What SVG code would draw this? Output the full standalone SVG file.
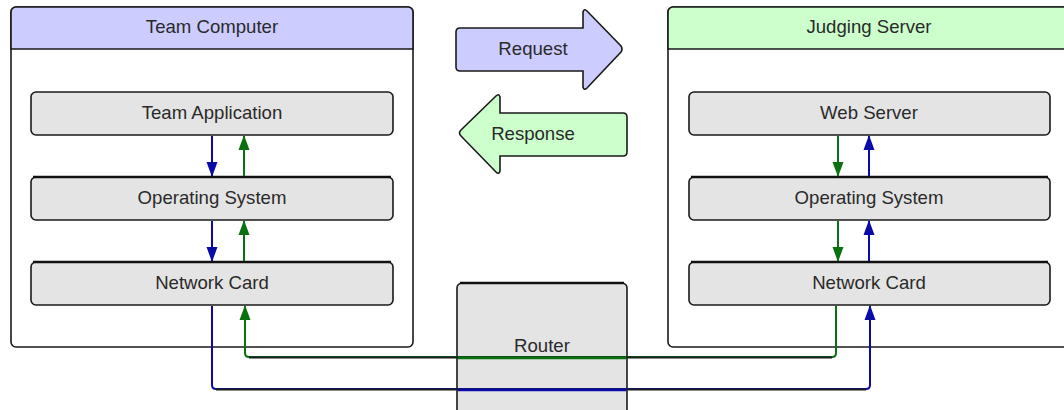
<svg xmlns="http://www.w3.org/2000/svg" width="1064" height="410" viewBox="0 0 1064 410">
<style>
text{font-family:"Liberation Sans",Arial,sans-serif;font-size:18.6px;fill:#2a2a2a;text-anchor:middle;dominant-baseline:central}
.outer{fill:#fff;stroke:#1a1a1a;stroke-width:1.6}
.layer{fill:#e4e4e4;stroke:#1a1a1a;stroke-width:1.6}
.topedge{fill:none;stroke:#111;stroke-width:2.4}
.blue{fill:none;stroke:#0a0aa8;stroke-width:2}
.green{fill:none;stroke:#0a7010;stroke-width:2}
.shadow{fill:none;stroke:#1c1c1c;stroke-width:1.8}
</style>
<defs>
<marker id="ab" markerWidth="15" markerHeight="12" refX="14" refY="6" orient="auto" markerUnits="userSpaceOnUse" viewBox="0 0 15 12"><path d="M0,0.5 L15,6 L0,11.5 z" fill="#0a0aa8"/></marker>
<marker id="ag" markerWidth="15" markerHeight="12" refX="14" refY="6" orient="auto" markerUnits="userSpaceOnUse" viewBox="0 0 15 12"><path d="M0,0.5 L15,6 L0,11.5 z" fill="#0a7010"/></marker>
</defs>
<g id="team-computer">
<rect class="outer" x="11" y="7" width="402" height="340" rx="5"/>
<path d="M11,49 V12 a5,5 0 0 1 5,-5 H408 a5,5 0 0 1 5,5 V49 z" fill="#ccccff" stroke="#1a1a1a" stroke-width="1.6"/>
<text x="212" y="26">Team Computer</text>
</g>
<g id="team-application"><rect class="layer" x="31" y="92" width="362" height="43" rx="5"/><text x="212" y="112">Team Application</text></g>
<g id="tc-os"><rect class="layer" x="31" y="177" width="362" height="43" rx="5"/><path class="topedge" d="M33,177 H391"/><text x="212" y="197">Operating System</text></g>
<g id="tc-nic"><rect class="layer" x="31" y="262" width="362" height="43" rx="5"/><path class="topedge" d="M33,262 H391"/><text x="212" y="282">Network Card</text></g>
<g id="judging-server">
<rect class="outer" x="668" y="7" width="420" height="340" rx="5"/>
<path d="M668,49 V12 a5,5 0 0 1 5,-5 H1088 V49 z" fill="#ccffcc" stroke="#1a1a1a" stroke-width="1.6"/>
<text x="869" y="26">Judging Server</text>
</g>
<g id="web-server"><rect class="layer" x="689" y="92" width="361" height="43" rx="5"/><text x="869" y="112">Web Server</text></g>
<g id="js-os"><rect class="layer" x="689" y="177" width="361" height="43" rx="5"/><path class="topedge" d="M691,177 H1048"/><text x="869" y="197">Operating System</text></g>
<g id="js-nic"><rect class="layer" x="689" y="262" width="361" height="43" rx="5"/><path class="topedge" d="M691,262 H1048"/><text x="869" y="282">Network Card</text></g>
<g id="request">
<path d="M460,28 H583 V12 Q584,8 587,11 L621,46 Q623,49 621,52 L587,88 Q584,91 583,87 V71 H460 Q456,71 456,67 V32 Q456,28 460,28 z" fill="#ccccff" stroke="#1a1a1a" stroke-width="1.6"/>
<text x="533" y="48">Request</text>
</g>
<g id="response">
<path d="M623,113 H500 V97 Q499,93 496,96 L461,130 Q458,133 461,136 L496,172 Q499,175 500,171 V156 H623 Q627,156 627,152 V117 Q627,113 623,113 z" fill="#ccffcc" stroke="#1a1a1a" stroke-width="1.6"/>
<text x="533" y="133">Response</text>
</g>
<g id="router">
<path d="M457,420 V288 a5,5 0 0 1 5,-5 H622 a5,5 0 0 1 5,5 V420" fill="#e4e4e4" stroke="#1a1a1a" stroke-width="1.6"/>
<path class="topedge" d="M460,283 H624"/>
<text x="542" y="345">Router</text>
</g>
<g id="connectors">
<path class="blue" d="M212,136 V176" marker-end="url(#ab)"/>
<path class="green" d="M244,176 V136" marker-end="url(#ag)"/>
<path class="blue" d="M212,221 V261" marker-end="url(#ab)"/>
<path class="green" d="M244,261 V221" marker-end="url(#ag)"/>
<path class="green" d="M838,136 V176" marker-end="url(#ag)"/>
<path class="blue" d="M869,176 V136" marker-end="url(#ab)"/>
<path class="green" d="M838,221 V261" marker-end="url(#ag)"/>
<path class="blue" d="M869,261 V221" marker-end="url(#ab)"/>
<path class="green" stroke-width="1.4" d="M836,306 V353 Q836,357 832,357 H249 Q245,357 245,353 V306" marker-end="url(#ag)"/>
<path class="blue" stroke-width="1.6" d="M212,306 V385 Q212,389 216,389 H866 Q870,389 870,385 V306" marker-end="url(#ab)"/>
<path class="shadow" d="M249,357.5 H832"/>
<path class="shadow" d="M216,389.5 H866"/>
<path stroke="#0a7010" stroke-width="2.5" d="M458,358 H626"/>
<path stroke="#0a0aa8" stroke-width="2.5" d="M458,390 H626"/>
</g>
</svg>
